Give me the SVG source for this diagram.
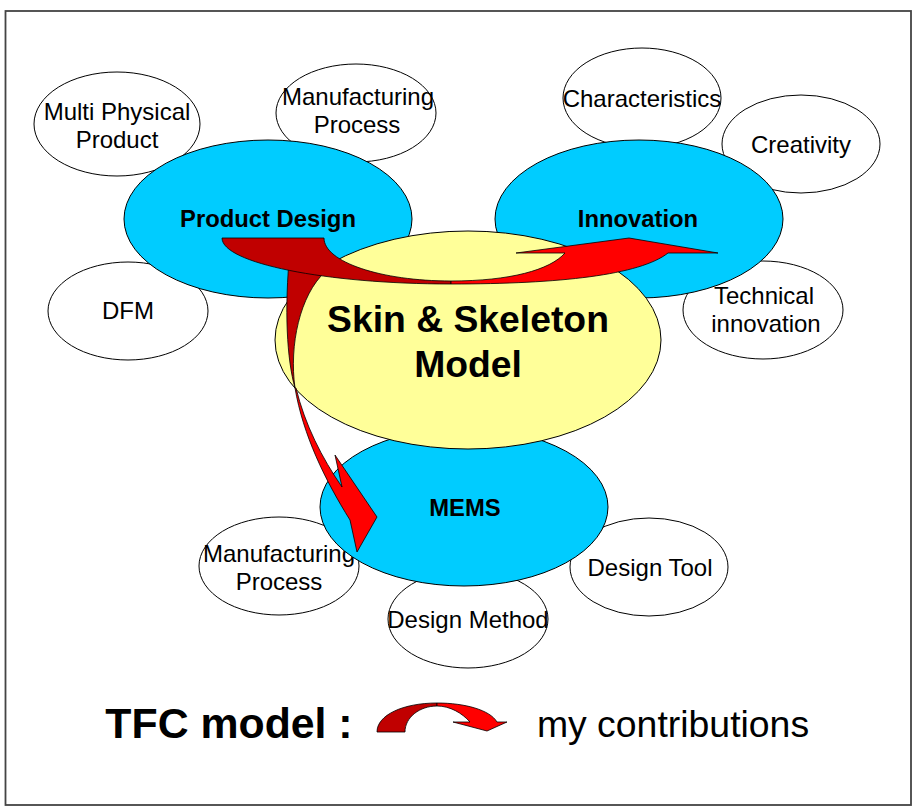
<svg xmlns="http://www.w3.org/2000/svg" width="915" height="809" viewBox="0 0 915 809">
<style>
.sm{fill:#fff;stroke:#000;stroke-width:1}
.bl{fill:#00CCFF;stroke:#000;stroke-width:1}
.ye{fill:#FFFF99;stroke:#000;stroke-width:1}
text{font-family:"Liberation Sans",Arial,sans-serif;fill:#000;text-anchor:middle}
.t{font-size:24px}
.b{font-size:23.8px;font-weight:bold}
.dk{fill:#C00000;stroke:#000;stroke-width:0.8;stroke-linejoin:miter}
.br{fill:#FF0000;stroke:#000;stroke-width:0.8;stroke-linejoin:miter}
</style>
<rect x="0" y="0" width="915" height="809" fill="#fff"/>
<rect x="5.5" y="11" width="905.5" height="794" fill="#fff" stroke="#444" stroke-width="1.8"/>

<g id="multi-physical-product"><ellipse class="sm" cx="117" cy="124" rx="83" ry="52"/><text class="t" x="117" y="120">Multi Physical</text><text class="t" x="117" y="148">Product</text></g>
<g id="manufacturing-process-top"><ellipse class="sm" cx="356" cy="113" rx="80" ry="49"/><text class="t" x="358" y="105">Manufacturing</text><text class="t" x="357" y="133">Process</text></g>
<g id="dfm"><ellipse class="sm" cx="128" cy="311" rx="80" ry="49"/><text class="t" x="128" y="319">DFM</text></g>
<g id="characteristics"><ellipse class="sm" cx="642" cy="98" rx="79" ry="50"/><text class="t" x="642" y="107">Characteristics</text></g>
<g id="creativity"><ellipse class="sm" cx="801" cy="144" rx="79" ry="49"/><text class="t" x="801" y="153">Creativity</text></g>
<g id="technical-innovation"><ellipse class="sm" cx="763" cy="310" rx="80" ry="49"/><text class="t" x="764" y="304">Technical</text><text class="t" x="766" y="332">innovation</text></g>
<g id="manufacturing-process-bottom"><ellipse class="sm" cx="279" cy="566" rx="80" ry="49"/><text class="t" x="279" y="562">Manufacturing</text><text class="t" x="279" y="590">Process</text></g>
<g id="design-method"><ellipse class="sm" cx="468" cy="619" rx="80" ry="49"/><text class="t" x="468" y="628">Design Method</text></g>
<g id="design-tool"><ellipse class="sm" cx="649" cy="567" rx="79" ry="49"/><text class="t" x="650" y="576">Design Tool</text></g>

<g id="product-design"><ellipse class="bl" cx="268" cy="219" rx="144" ry="79"/><text class="b" x="268" y="227">Product Design</text></g>
<g id="innovation"><ellipse class="bl" cx="639" cy="219" rx="144" ry="79"/><text class="b" x="638" y="227">Innovation</text></g>
<g id="mems"><ellipse class="bl" cx="464" cy="507" rx="144" ry="79"/><text class="b" x="465" y="516">MEMS</text></g>
<g id="skin-skeleton-model"><ellipse class="ye" cx="468" cy="340" rx="193" ry="109"/><text x="468" y="332" style="font-size:37.3px;font-weight:bold">Skin &amp; Skeleton</text><text x="468" y="377" style="font-size:37.3px;font-weight:bold">Model</text></g>

<g id="connectors">
<path class="dk" d="M290,250 L322,250 L325,272 C300,295 289,345 295,388 C287,360 284,310 290,250 Z"/>
<path class="br" d="M296,388 C305,425 322,458 342,487 L335,455 L377,517 L357,552 L350,520 C325,480 303,435 295,388 Z"/>
<path class="dk" d="M222,238 L324,238 C324,262 381,281 451,281 L451,284 C325,284 222,263 222,238 Z"/>
<path class="br" d="M451,281 C510,281 550,270 565,253 L516,253 L629,238 L718,253 L668,253 C640,275 560,284 451,284 Z"/>
</g>

<g id="legend">
<text x="229" y="738" style="font-size:42.8px;font-weight:bold">TFC model :</text>
<path class="dk" d="M377,732 C377,715 403,703 437,703 L437,706 C420,706 405,717 405,732 Z"/>
<path class="br" d="M437,703 C465,703 490,710 497,722 L507,722 L487,731 L453,722 L470,722 C462,713 450,706 437,706 Z"/>
<text x="673" y="737" style="font-size:37.4px">my contributions</text>
</g>
</svg>
